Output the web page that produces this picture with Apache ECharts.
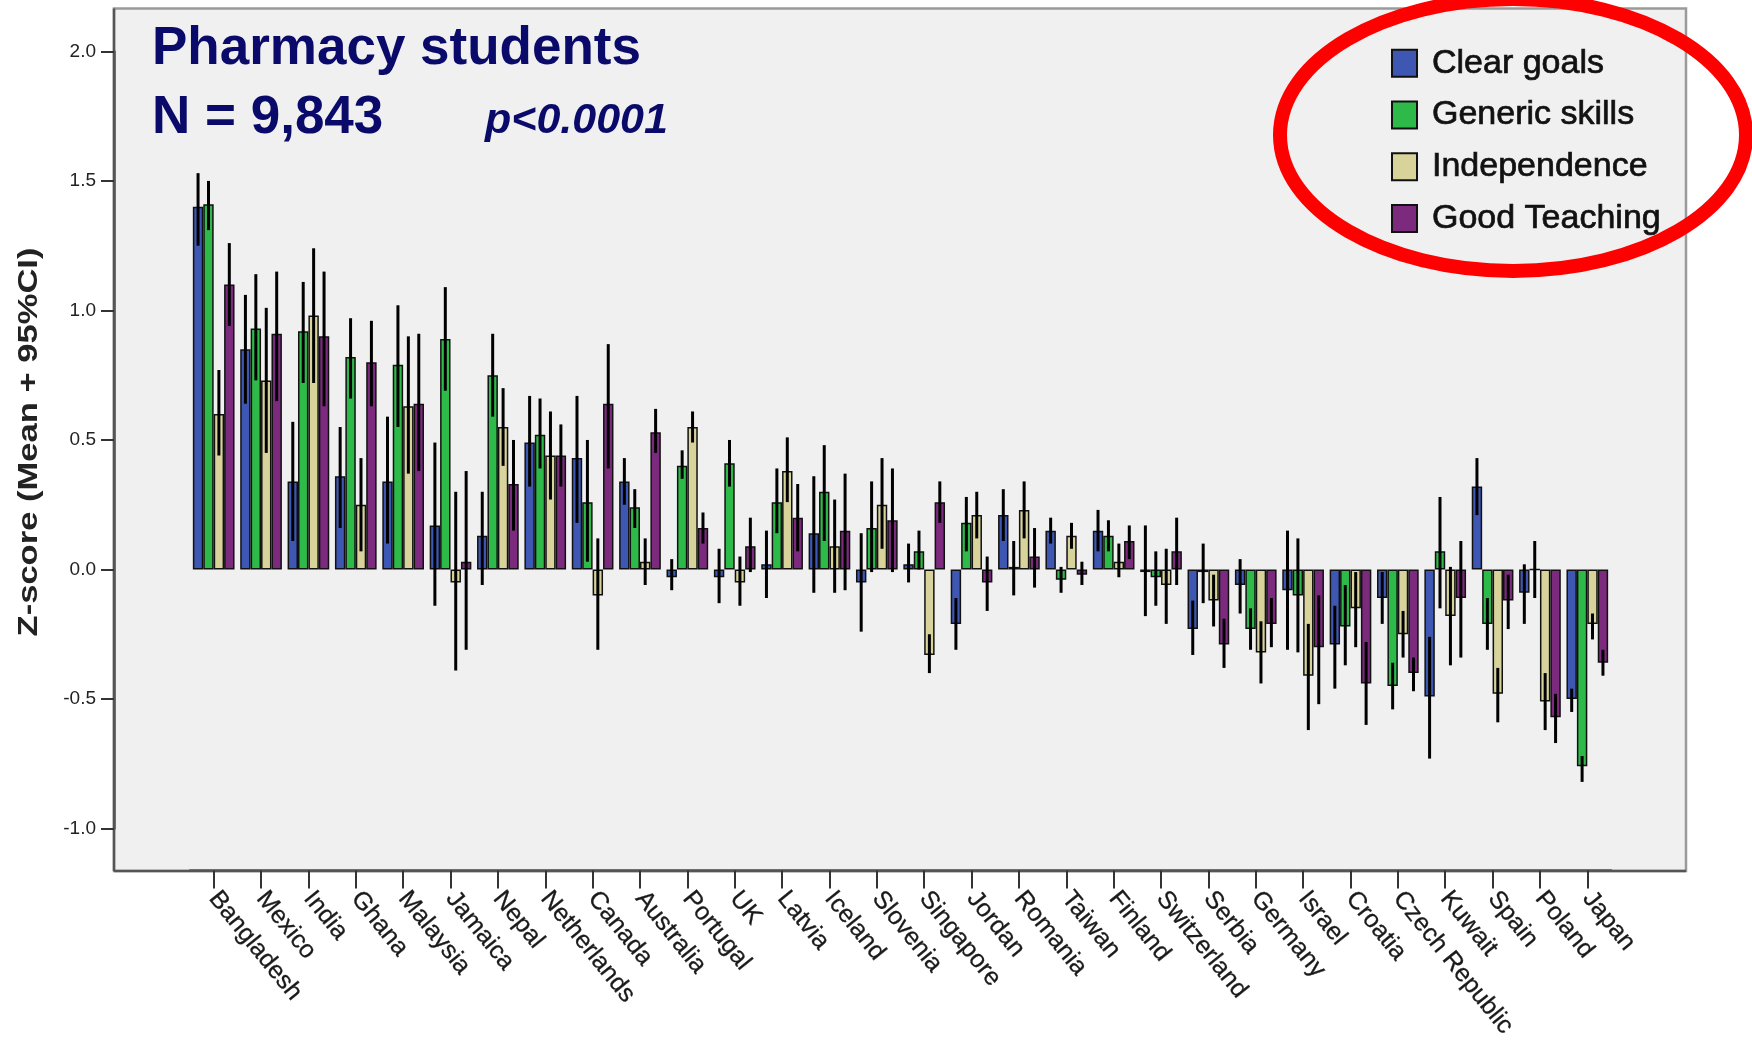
<!DOCTYPE html>
<html>
<head>
<meta charset="utf-8">
<title>Pharmacy students – Z-scores by country</title>
<script src="https://cdn.jsdelivr.net/npm/echarts@6/dist/echarts.min.js"></script>
<style>
  html, body { margin: 0; padding: 0; background: #ffffff; }
  #chart { width: 1752px; height: 1041px; }
</style>
</head>
<body>
<div id="chart"></div>
<script>
// Countries, ordered as on the category axis
const countries = ['Bangladesh', 'Mexico', 'India', 'Ghana', 'Malaysia', 'Jamaica', 'Nepal',
  'Netherlands', 'Canada', 'Australia', 'Portugal', 'UK', 'Latvia', 'Iceland', 'Slovenia',
  'Singapore', 'Jordan', 'Romania', 'Taiwan', 'Finland', 'Switzerland', 'Serbia', 'Germany',
  'Israel', 'Croatia', 'Czech Republic', 'Kuwait', 'Spain', 'Poland', 'Japan'];

const seriesNames = ['Clear goals', 'Generic skills', 'Independence', 'Good Teaching'];

// Mean z-scores with lower / upper 95% CI bounds
const clearGoals = [1.40, 0.85, 0.34, 0.36, 0.34, 0.17, 0.13, 0.49, 0.43, 0.34, -0.03, -0.03, 0.02, 0.14, -0.05,
  0.02, -0.21, 0.21, 0.15, 0.15, -0.01, -0.23, -0.06, -0.08, -0.29, -0.11, -0.49, 0.32, -0.09, -0.50];
const clearGoalsLow = [1.25, 0.64, 0.11, 0.16, 0.10, -0.14, -0.06, 0.32, 0.18, 0.25, -0.08, -0.13, -0.11, -0.09, -0.24,
  -0.05, -0.31, 0.11, 0.10, 0.07, -0.18, -0.33, -0.17, -0.31, -0.46, -0.21, -0.73, 0.21, -0.21, -0.55];
const clearGoalsHigh = [1.53, 1.06, 0.57, 0.55, 0.59, 0.49, 0.30, 0.67, 0.67, 0.43, 0.04, 0.08, 0.15, 0.36, 0.14,
  0.10, -0.11, 0.31, 0.20, 0.23, 0.17, -0.12, 0.04, 0.15, -0.14, -0.01, -0.26, 0.43, 0.02, -0.46];

const genericSkills = [1.41, 0.93, 0.92, 0.82, 0.79, 0.89, 0.75, 0.52, 0.26, 0.24, 0.40, 0.41, 0.26, 0.30, 0.16,
  0.07, 0.18, 0.01, -0.04, 0.13, -0.03, -0.01, -0.23, -0.10, -0.22, -0.45, 0.07, -0.21, 0.00, -0.76];
const genericSkillsLow = [1.31, 0.73, 0.72, 0.66, 0.55, 0.69, 0.59, 0.39, 0.03, 0.16, 0.35, 0.32, 0.14, 0.11, -0.01,
  0.00, 0.07, -0.10, -0.09, 0.07, -0.14, -0.13, -0.31, -0.32, -0.37, -0.54, -0.15, -0.31, -0.11, -0.82];
const genericSkillsHigh = [1.50, 1.14, 1.11, 0.97, 1.02, 1.09, 0.91, 0.66, 0.50, 0.31, 0.46, 0.50, 0.39, 0.48, 0.34,
  0.15, 0.28, 0.11, 0.01, 0.19, 0.07, 0.10, -0.15, 0.12, -0.06, -0.36, 0.28, -0.11, 0.11, -0.72];

const independence = [0.60, 0.73, 0.98, 0.25, 0.63, -0.05, 0.55, 0.44, -0.10, 0.03, 0.55, -0.05, 0.38, 0.09, 0.25,
  -0.33, 0.21, 0.23, 0.13, 0.03, -0.06, -0.12, -0.32, -0.41, -0.15, -0.25, -0.18, -0.48, -0.51, -0.21];
const independenceLow = [0.44, 0.45, 0.72, 0.07, 0.37, -0.39, 0.40, 0.27, -0.31, -0.06, 0.49, -0.14, 0.26, -0.09, 0.08,
  -0.40, 0.12, 0.12, 0.08, -0.03, -0.21, -0.22, -0.44, -0.62, -0.30, -0.34, -0.37, -0.59, -0.62, -0.27];
const independenceHigh = [0.77, 1.01, 1.24, 0.43, 0.90, 0.30, 0.70, 0.61, 0.12, 0.12, 0.61, 0.05, 0.51, 0.27, 0.43,
  -0.25, 0.30, 0.34, 0.18, 0.10, 0.08, -0.02, -0.20, -0.21, -0.01, -0.16, 0.01, -0.38, -0.40, -0.17];

const goodTeaching = [1.10, 0.91, 0.90, 0.80, 0.64, 0.03, 0.33, 0.44, 0.64, 0.53, 0.16, 0.09, 0.20, 0.15, 0.19,
  0.26, -0.05, 0.05, -0.02, 0.11, 0.07, -0.29, -0.21, -0.30, -0.44, -0.40, -0.11, -0.12, -0.57, -0.36];
const goodTeachingLow = [0.94, 0.65, 0.63, 0.63, 0.38, -0.31, 0.15, 0.32, 0.39, 0.45, 0.10, -0.01, 0.07, -0.08, -0.01,
  0.18, -0.16, -0.07, -0.06, 0.04, -0.06, -0.38, -0.30, -0.52, -0.60, -0.47, -0.34, -0.23, -0.67, -0.41];
const goodTeachingHigh = [1.26, 1.15, 1.15, 0.96, 0.91, 0.38, 0.50, 0.56, 0.87, 0.62, 0.22, 0.20, 0.33, 0.37, 0.39,
  0.34, 0.05, 0.16, 0.03, 0.17, 0.20, -0.19, -0.11, -0.10, -0.28, -0.34, 0.11, -0.02, -0.48, -0.31];

const yTickLabels = ['-1.0', '-0.5', '0.0', '0.5', '1.0', '1.5', '2.0'];

const means = [clearGoals, genericSkills, independence, goodTeaching];
const lows = [clearGoalsLow, genericSkillsLow, independenceLow, goodTeachingLow];
const highs = [clearGoalsHigh, genericSkillsHigh, independenceHigh, goodTeachingHigh];
const colors = ['#3d57b2', '#2eba48', '#d7d39b', '#7c2a7e'];

const CATEGORY_GAP = 0.12;   // share of each band left empty between country groups

// Vertical 95% CI line centred on one bar of a country group
function ciRenderer(barIndex) {
  return function (params, api) {
    const cat = api.value(0);
    const top = api.coord([cat, api.value(2)]);
    const bottom = api.coord([cat, api.value(1)]);
    const band = api.size([1, 0])[0];
    const groupWidth = band * (1 - CATEGORY_GAP);
    const barWidth = groupWidth / seriesNames.length;
    const x = top[0] - groupWidth / 2 + barWidth * (barIndex + 0.5);
    return {
      type: 'line',
      shape: { x1: x, y1: top[1], x2: x, y2: bottom[1] },
      style: { stroke: '#000000', lineWidth: 3 }
    };
  };
}

const series = [];
seriesNames.forEach(function (name, i) {
  series.push({
    name: name,
    type: 'bar',
    data: means[i],
    barGap: '0%',
    barCategoryGap: (CATEGORY_GAP * 100) + '%',
    itemStyle: { color: colors[i], borderColor: '#111111', borderWidth: 1.5 },
    z: 2
  });
});
seriesNames.forEach(function (name, i) {
  series.push({
    name: name + ' 95% CI',
    type: 'custom',
    renderItem: ciRenderer(i),
    encode: { x: 0, y: [1, 2] },
    data: countries.map(function (c, k) { return [k, lows[i][k], highs[i][k]]; }),
    z: 4,
    silent: true
  });
});

const chart = echarts.init(document.getElementById('chart'), null, { renderer: 'canvas' });

chart.setOption({
  animation: false,
  backgroundColor: '#ffffff',
  textStyle: { fontFamily: 'Liberation Sans, Arial, sans-serif' },
  grid: { left: 190, right: 141, top: 51.4, bottom: 212, containLabel: false },
  legend: {
    data: seriesNames,
    orient: 'vertical',
    left: 1386,
    top: 41,
    icon: 'rect',
    itemWidth: 25,
    itemHeight: 27,
    itemGap: 17,
    textStyle: {
      fontSize: 34, color: '#111111', padding: [0, 0, 0, 10],
      textBorderColor: '#111111', textBorderWidth: 0.7
    },
    z: 20
  },
  xAxis: {
    type: 'category',
    data: countries,
    offset: 42,
    axisLine: { show: true, onZero: false, lineStyle: { color: '#555555', width: 2.5 } },
    axisTick: { show: true, alignWithLabel: true, length: 18, lineStyle: { color: '#333333', width: 2 } },
    axisLabel: {
      interval: 0, rotate: -51, fontSize: 25, margin: 24, color: '#1a1a1a',
      textBorderColor: '#1a1a1a', textBorderWidth: 0.3
    },
    splitLine: { show: false }
  },
  yAxis: {
    type: 'value',
    min: -1,
    max: 2,
    interval: 0.5,
    offset: 76,
    axisLine: { show: true, onZero: false, lineStyle: { color: '#555555', width: 2.5 } },
    axisTick: { show: true, length: 13, lineStyle: { color: '#333333', width: 2 } },
    axisLabel: {
      fontSize: 19, margin: 18, color: '#222222',
      formatter: function (v) { return yTickLabels[Math.round((v + 1) / 0.5)]; }
    },
    splitLine: { show: false }
  },
  graphic: [
    // plot frame
    { type: 'rect', z: -10, silent: true,
      shape: { x: 114, y: 8.5, width: 1572, height: 862.5 },
      style: { fill: '#f0f0f0', stroke: '#9a9a9a', lineWidth: 2.5 } },
    { type: 'line', z: -9, silent: true,
      shape: { x1: 114, y1: 8.5, x2: 114, y2: 871 },
      style: { stroke: '#555555', lineWidth: 2.5 } },
    { type: 'line', z: -9, silent: true,
      shape: { x1: 114, y1: 871, x2: 1686, y2: 871 },
      style: { stroke: '#555555', lineWidth: 2.5 } },
    // axis title
    { type: 'text', z: 10, x: 30, y: 442, rotation: Math.PI / 2, scaleX: 1.28, silent: true,
      style: { text: 'Z-score (Mean + 95%CI)', fontSize: 27, fontWeight: 'bold',
        fontFamily: 'Liberation Sans, Arial, sans-serif', fill: '#222222', align: 'center', verticalAlign: 'middle' } },
    // headline
    { type: 'text', z: 10, x: 152, y: 49, silent: true,
      style: { text: 'Pharmacy students', fontSize: 53, fontWeight: 'bold',
        fontFamily: 'Liberation Sans, Arial, sans-serif', fill: '#0a0a6a', verticalAlign: 'middle' } },
    { type: 'text', z: 10, x: 152, y: 118, silent: true,
      style: { text: 'N = 9,843', fontSize: 53, fontWeight: 'bold',
        fontFamily: 'Liberation Sans, Arial, sans-serif', fill: '#0a0a6a', verticalAlign: 'middle' } },
    { type: 'text', z: 10, x: 485, y: 121, silent: true,
      style: { text: 'p<0.0001', fontSize: 43, fontWeight: 'bold', fontStyle: 'italic',
        fontFamily: 'Liberation Sans, Arial, sans-serif', fill: '#0a0a6a', verticalAlign: 'middle' } },
    // highlight ring around the legend
    { type: 'ellipse', z: 100, silent: true,
      shape: { cx: 1513, cy: 135, rx: 233, ry: 136 },
      style: { fill: 'none', stroke: '#ff0000', lineWidth: 14 } }
  ],
  series: series
});
</script>
</body>
</html>
